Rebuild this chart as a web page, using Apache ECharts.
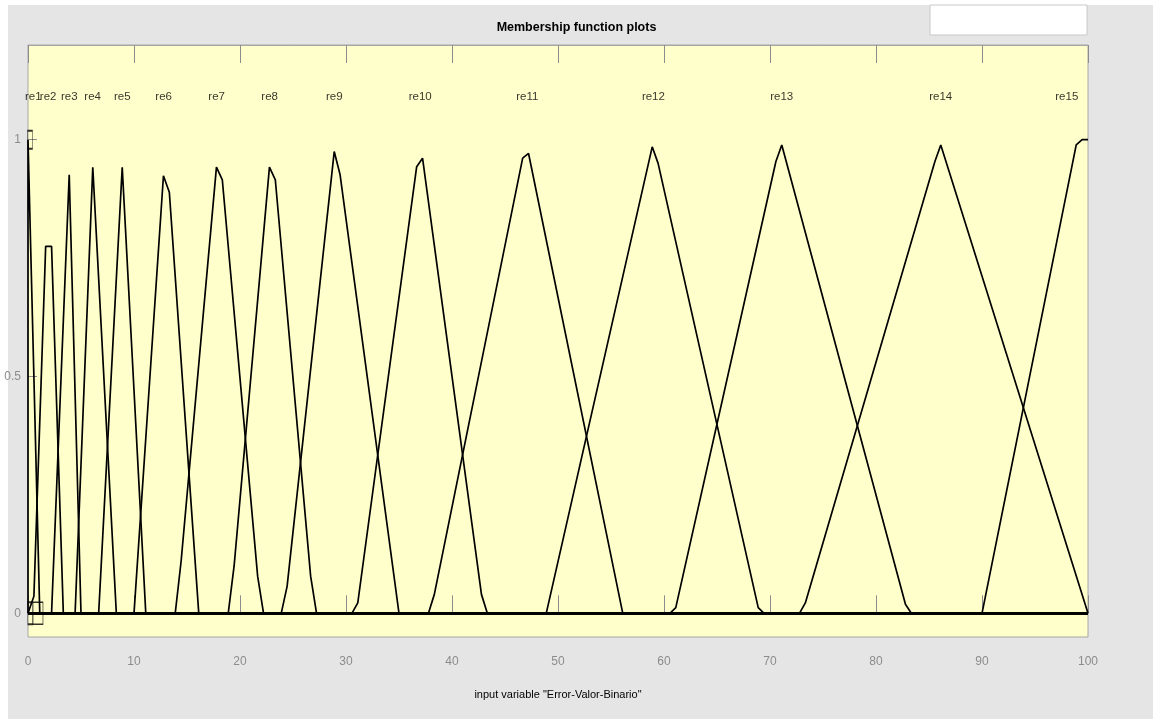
<!DOCTYPE html>
<html>
<head>
<meta charset="utf-8">
<script src="https://cdn.jsdelivr.net/npm/echarts@6/dist/echarts.min.js"></script>
<style>
  html, body { margin: 0; padding: 0; background: #ffffff; }
  #chart { width: 1153px; height: 719px; }
</style>
</head>
<body>
<div id="chart"></div>
<script>
// membership function names and their drawn vertices [x, mu]
var mfNames = ['re1', 're2', 're3', 're4', 're5', 're6', 're7', 're8', 're9', 're10', 're11', 're12', 're13', 're14', 're15'];
var mfLabelX = [0.5, 1.9, 3.9, 6.1, 8.9, 12.8, 17.8, 22.8, 28.9, 37.0, 47.1, 59.0, 71.1, 86.1, 98.0];
var mfLabelY = 1.09;

var re1 = [[0, 0], [0, 1], [1.111, 0], [100, 0]];
var re2 = [[0, 0], [0.556, 0.036], [1.667, 0.775], [2.222, 0.775], [3.333, 0], [100, 0]];
var re3 = [[0, 0], [2.222, 0], [3.889, 0.926], [5.0, 0], [100, 0]];
var re4 = [[0, 0], [4.444, 0], [6.111, 0.942], [8.333, 0], [100, 0]];
var re5 = [[0, 0], [6.667, 0], [8.889, 0.942], [11.111, 0], [100, 0]];
var re6 = [[0, 0], [10.0, 0], [12.778, 0.924], [13.333, 0.889], [16.111, 0], [100, 0]];
var re7 = [[0, 0], [13.889, 0], [14.444, 0.11], [17.778, 0.942], [18.333, 0.915], [21.667, 0.078], [22.222, 0], [100, 0]];
var re8 = [[0, 0], [18.889, 0], [19.444, 0.1], [22.778, 0.942], [23.333, 0.915], [26.667, 0.078], [27.222, 0], [100, 0]];
var re9 = [[0, 0], [23.889, 0], [24.444, 0.057], [28.889, 0.975], [29.444, 0.926], [35.0, 0], [100, 0]];
var re10 = [[0, 0], [30.556, 0], [31.111, 0.022], [36.667, 0.943], [37.222, 0.961], [42.778, 0.04], [43.333, 0], [100, 0]];
var re11 = [[0, 0], [37.778, 0], [38.333, 0.04], [46.667, 0.961], [47.222, 0.971], [56.111, 0], [100, 0]];
var re12 = [[0, 0], [48.889, 0], [58.889, 0.985], [59.444, 0.95], [68.889, 0.012], [69.444, 0], [100, 0]];
var re13 = [[0, 0], [60.556, 0], [61.111, 0.012], [70.556, 0.954], [71.111, 0.989], [82.778, 0.019], [83.333, 0], [100, 0]];
var re14 = [[0, 0], [72.778, 0], [73.333, 0.022], [85.556, 0.954], [86.111, 0.989], [100, 0]];
var re15 = [[0, 0], [90.0, 0], [98.889, 0.989], [99.444, 1], [100, 1]];
var mfPoints = [re1, re2, re3, re4, re5, re6, re7, re8, re9, re10, re11, re12, re13, re14, re15];

// selection handles on re1
var handlePoints = [[0.19, 1], [0.22, 0], [0.94, 0]];
var handleSizes = [[5, 18], [5, 22], [10, 22]];

var yTicks = [0, 0.5, 1];

var font = "'Liberation Sans', Arial, sans-serif";
var myChart = echarts.init(document.getElementById('chart'));

var series = [];
for (var i = 0; i < mfPoints.length; i++) {
  series.push({
    name: mfNames[i],
    type: 'line',
    data: mfPoints[i],
    showSymbol: false,
    symbol: 'none',
    lineStyle: { color: '#000000', width: 1.7 },
    z: 3
  });
}

// labels above each peak (on the top x axis so that one gets drawn)
var labelData = [];
for (var j = 0; j < mfNames.length; j++) {
  labelData.push({ value: [mfLabelX[j], mfLabelY], name: mfNames[j] });
}
series.push({
  type: 'scatter',
  xAxisIndex: 1,
  data: labelData,
  symbolSize: 0,
  label: {
    show: true,
    position: 'inside',
    formatter: '{b}',
    color: '#000000',
    fontSize: 11.5,
    fontFamily: font
  },
  z: 4
});

var handleData = [];
for (var k = 0; k < handlePoints.length; k++) {
  handleData.push({ value: handlePoints[k], symbolSize: handleSizes[k] });
}
series.push({
  type: 'scatter',
  data: handleData,
  symbol: 'rect',
  itemStyle: { color: 'rgba(0,0,0,0)', borderColor: '#000000', borderWidth: 1 },
  z: 5
});

var option = {
  animation: false,
  backgroundColor: '#ffffff',
  title: {
    text: 'Membership function plots',
    left: 'center',
    top: 16,
    textStyle: { fontSize: 12.5, fontWeight: 'bold', color: '#000000', fontFamily: font }
  },
  graphic: [
    { type: 'rect', z: -10, shape: { x: 8, y: 5, width: 1145, height: 714 }, style: { fill: '#e5e5e5' } },
    { type: 'rect', z: -5, shape: { x: 930, y: 5, width: 157, height: 30 }, style: { fill: '#ffffff', stroke: '#c8c8c8', lineWidth: 1 } }
  ],
  grid: {
    left: 28,
    right: 65,
    top: 45,
    bottom: 82,
    show: true,
    backgroundColor: '#ffffcc',
    borderColor: '#a6a6a6',
    borderWidth: 1
  },
  xAxis: [{
    type: 'value',
    min: 0,
    max: 100,
    interval: 10,
    name: 'input variable "Error-Valor-Binario"',
    nameLocation: 'middle',
    nameGap: 52,
    nameTextStyle: { color: '#000000', fontSize: 11, fontFamily: font },
    axisLine: { show: false },
    splitLine: { show: false },
    axisTick: { show: true, inside: true, length: 18, lineStyle: { color: '#8c8c8c' } },
    axisLabel: { color: '#8c8c8c', fontSize: 12, margin: 19, fontFamily: font }
  }, {
    type: 'value',
    position: 'top',
    min: 0,
    max: 100,
    interval: 10,
    axisLine: { show: true, onZero: false, lineStyle: { color: '#a6a6a6', width: 1 } },
    splitLine: { show: false },
    axisTick: { show: true, inside: true, length: 18, lineStyle: { color: '#8c8c8c' } },
    axisLabel: { show: true, color: 'rgba(0,0,0,0)', fontSize: 10 }
  }],
  yAxis: {
    type: 'value',
    min: -0.05,
    max: 1.2,
    axisLine: { show: false },
    splitLine: { show: false },
    axisTick: { show: true, inside: true, length: 9, customValues: yTicks, lineStyle: { color: '#8c8c8c' } },
    axisLabel: { color: '#8c8c8c', fontSize: 12, margin: 7, fontFamily: font, customValues: yTicks }
  },
  series: series
};

myChart.setOption(option);
</script>
</body>
</html>
